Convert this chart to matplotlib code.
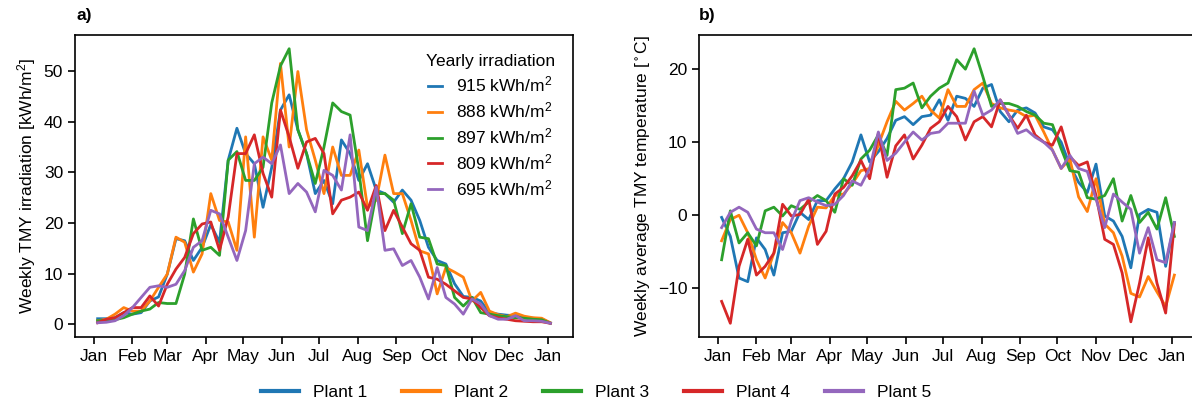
import matplotlib
matplotlib.use("Agg")
import matplotlib.dates as mdates
import matplotlib.pyplot as plt
import pandas as pd

plt.rcParams["font.family"] = ["Liberation Sans", "DejaVu Sans"]
plt.rcParams["mathtext.default"] = "regular"
plt.rcParams["font.size"] = 12.5

weeks = pd.date_range("2021-01-04", periods=53, freq="7D")
plants = ["Plant 1", "Plant 2", "Plant 3", "Plant 4", "Plant 5"]
yearly_irradiation = [915, 888, 897, 809, 695]
colors = ["#1f77b4", "#ff7f0e", "#2ca02c", "#d62728", "#9467bd"]

# weekly TMY irradiation [kWh/m2]
irr_plant1 = [1.1, 1.1, 1.3, 2.3, 2.0, 2.3, 4.6, 5.4, 9.9, 16.9,
              16.5, 12.6, 15.2, 19.7, 16.2, 32.4, 38.7, 33.7, 31.7, 23.1,
              31.0, 42.3, 45.3, 38.4, 33.7, 25.8, 28.4, 23.8, 36.4, 33.7,
              28.4, 31.7, 26.5, 25.8, 24.1, 26.5, 24.5, 20.5, 15.2, 12.6,
              11.9, 8.0, 5.5, 5.3, 4.6, 2.3, 2.0, 1.8, 1.7, 1.3,
              1.2, 1.0, 0.3]
irr_plant2 = [0.7, 1.0, 2.0, 3.3, 2.6, 2.6, 4.6, 7.3, 9.9, 17.2,
              16.2, 10.3, 13.9, 25.8, 20.5, 20.2, 14.6, 37.0, 17.2, 37.0,
              32.4, 51.5, 35.0, 49.9, 38.4, 32.4, 25.8, 35.0, 29.4, 29.4,
              34.4, 23.1, 24.5, 33.4, 25.8, 25.8, 20.5, 14.5, 13.9, 6.0,
              11.2, 10.3, 9.3, 4.6, 6.3, 2.6, 1.9, 1.5, 2.2, 1.6,
              1.3, 1.2, 0.3]
irr_plant3 = [0.7, 0.8, 0.9, 1.3, 2.0, 2.6, 3.0, 4.3, 4.1, 4.1,
              9.9, 20.8, 14.6, 15.2, 13.6, 32.4, 34.1, 28.4, 28.4, 31.0,
              43.7, 51.0, 54.4, 38.4, 33.7, 27.8, 35.0, 43.7, 42.0, 41.3,
              30.4, 16.5, 25.8, 25.8, 24.5, 17.9, 23.8, 17.2, 16.9, 11.9,
              11.6, 5.3, 3.6, 5.3, 2.3, 2.0, 1.7, 1.5, 1.3, 1.2,
              1.0, 0.9, 0.2]
irr_plant4 = [0.3, 1.0, 1.3, 2.3, 3.3, 3.3, 5.6, 3.6, 7.9, 10.9,
              13.2, 17.9, 19.8, 20.2, 14.6, 21.2, 33.7, 33.7, 37.4, 29.8,
              25.1, 42.3, 37.0, 30.8, 36.0, 36.7, 33.7, 21.8, 24.5, 25.1,
              26.1, 22.5, 27.4, 18.5, 22.5, 19.2, 15.9, 14.6, 9.3, 8.9,
              7.9, 6.6, 5.3, 5.0, 3.3, 1.7, 1.3, 1.0, 0.7, 0.6,
              0.5, 0.5, 0.2]
irr_plant5 = [0.3, 0.4, 0.7, 1.7, 3.3, 5.3, 7.3, 7.6, 7.3, 7.9,
              10.6, 15.2, 16.5, 22.5, 21.8, 17.2, 12.6, 18.5, 31.7, 33.0,
              31.7, 35.4, 25.8, 27.8, 26.1, 22.2, 30.4, 29.4, 26.5, 37.4,
              19.2, 18.5, 27.1, 14.6, 14.9, 11.6, 12.6, 9.3, 5.0, 11.2,
              5.3, 4.0, 2.0, 5.0, 4.0, 1.7, 1.0, 1.0, 1.7, 0.7,
              0.7, 0.6, 0.2]

# weekly average TMY temperature [C]
temp_plant1 = [-0.3, -2.9, -8.6, -9.1, -3.1, -4.7, -8.2, -2.4, -2.2, 0.4,
               -0.6, 2.0, 2.0, 3.6, 5.0, 7.3, 11.0, 7.3, 8.7, 10.5,
               13.0, 13.5, 12.4, 13.5, 13.7, 15.8, 13.0, 16.3, 16.0, 14.9,
               17.4, 17.9, 14.2, 12.8, 14.4, 14.7, 14.0, 12.1, 11.7, 10.0,
               6.8, 4.5, 3.1, 7.0, -0.1, -0.8, -2.9, -7.2, 0.1, 0.8,
               0.4, -7.0, -1.0]
temp_plant2 = [-3.5, -0.6, 0.0, -2.4, -6.1, -8.6, -5.2, -1.0, -2.4, -5.2,
               -1.5, 1.1, 1.0, 2.7, 2.9, 4.3, 6.1, 6.4, 9.6, 12.8,
               15.6, 14.4, 15.3, 16.3, 14.4, 13.3, 17.2, 14.9, 14.9, 17.2,
               18.1, 15.3, 14.7, 14.4, 14.2, 13.5, 13.7, 11.4, 8.9, 6.4,
               7.7, 2.5, 0.5, 5.0, -1.2, -2.4, -5.6, -10.7, -11.2, -8.4,
               -10.5, -12.5, -8.2]
temp_plant3 = [-6.1, 0.6, -3.8, -2.4, -4.2, 0.6, 1.1, -0.1, 1.3, 0.8,
               1.8, 2.7, 2.0, 0.4, 5.0, 4.1, 7.7, 8.9, 11.0, 8.2,
               17.2, 17.4, 18.1, 14.7, 16.3, 17.4, 18.1, 21.3, 20.0, 22.8,
               19.0, 14.9, 15.3, 15.3, 14.9, 14.2, 13.7, 12.6, 12.4, 9.1,
               6.1, 5.9, 2.4, 2.2, 2.7, 5.0, -0.8, 2.7, -1.0, 0.4,
               -1.9, 2.4, -2.9]
temp_plant4 = [-11.8, -14.8, -7.0, -3.3, -8.2, -7.0, -5.2, 1.5, -0.1, 0.1,
               2.2, -4.0, -2.2, 2.9, 3.8, 5.4, 7.5, 5.0, 11.2, 5.2,
               9.5, 11.0, 7.7, 9.6, 11.9, 12.8, 14.9, 13.5, 10.3, 12.8,
               13.5, 12.1, 15.8, 13.7, 11.9, 13.7, 11.0, 10.0, 9.6, 12.1,
               8.0, 6.8, 7.3, 2.7, -3.3, -4.0, -7.9, -14.6, -9.3, -3.1,
               -9.3, -13.4, -1.2]
temp_plant5 = [-1.7, 0.4, 1.1, 0.4, -1.9, -2.4, -2.4, -4.7, -0.8, 2.0,
               2.4, 1.8, 1.3, 1.5, 2.7, 4.7, 4.1, 6.4, 11.4, 7.5,
               8.5, 10.0, 11.4, 10.3, 11.2, 11.4, 12.6, 12.6, 12.6, 17.0,
               13.7, 14.4, 15.8, 13.7, 11.2, 11.7, 10.7, 10.0, 8.9, 6.4,
               8.2, 6.4, 6.0, 2.2, -1.7, 2.9, 1.8, 0.8, -5.2, -1.7,
               -6.1, -6.5, -1.0]

irradiation = [irr_plant1, irr_plant2, irr_plant3, irr_plant4, irr_plant5]
temperature = [temp_plant1, temp_plant2, temp_plant3, temp_plant4, temp_plant5]

fig = plt.figure(figsize=(11.92, 4.08), dpi=100)
ax_a = fig.add_axes([0.0629, 0.174, 0.4178, 0.7402])
ax_b = fig.add_axes([0.5864, 0.174, 0.4178, 0.7402])

lines = []
for values, color in zip(irradiation, colors):
    (line,) = ax_a.plot(weeks, values, color=color, lw=2)
    lines.append(line)
for values, color in zip(temperature, colors):
    ax_b.plot(weeks, values, color=color, lw=2)

for ax in (ax_a, ax_b):
    ax.xaxis.set_major_locator(mdates.MonthLocator())
    ax.xaxis.set_major_formatter(mdates.DateFormatter("%b"))
    ax.tick_params(width=1.2, length=5)
    for spine in ax.spines.values():
        spine.set_linewidth(1.2)

ax_a.set_yticks([0, 10, 20, 30, 40, 50])
ax_a.set_ylabel("Weekly TMY irradiation [kWh/m$^2$]")
ax_b.set_yticks([-10, 0, 10, 20])
ax_b.set_ylabel(r"Weekly average TMY temperature [$^\circ$C]")

ax_a.legend(lines, [f"{v} kWh/m$^2$" for v in yearly_irradiation],
            title="Yearly irradiation", loc="upper right", frameon=False,
            handlelength=0.8, handletextpad=0.8, labelspacing=0.35,
            bbox_to_anchor=(0.995, 0.99))

fig.text(0.0638, 0.961, "a)", fontweight="bold", ha="left", va="center")
fig.text(0.5864, 0.961, "b)", fontweight="bold", ha="left", va="center")

leg = fig.legend(lines, plants, loc="center", bbox_to_anchor=(0.5, 0.037),
                 ncol=5, frameon=False, handlelength=2.2, columnspacing=2.0)
for handle in leg.legend_handles:
    handle.set_linewidth(3)

fig.savefig("out.png", dpi=100)
